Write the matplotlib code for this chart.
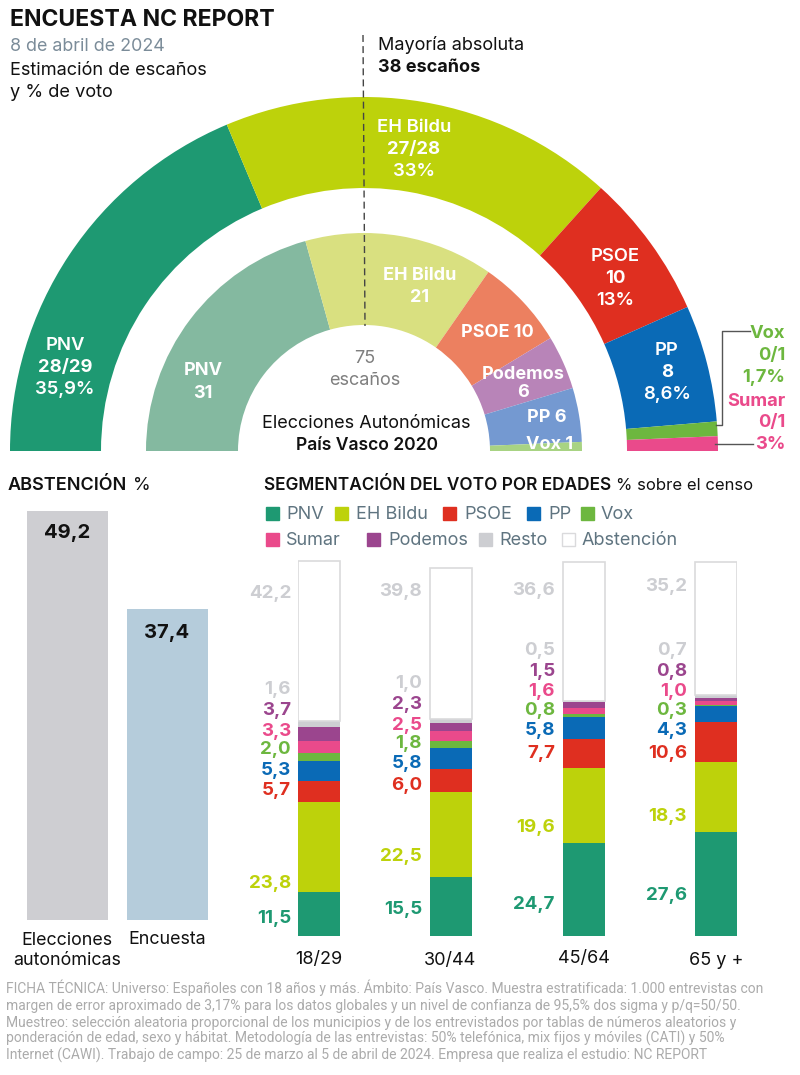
import matplotlib.pyplot as plt
from matplotlib.patches import Rectangle

plt.rcParams['font.family'] = ['Inter', 'DejaVu Sans']

W, H = 800, 1075

# hemiciclos
seats_now = [28, 27, 10, 8, 1, 1]
colors_now = ['#1E9972', '#BDD20B', '#DF2F20', '#0A6AB6', '#6DB73F', '#EA4A8B']
seats_2020 = [31, 21, 10, 6, 6, 1]
colors_2020 = ['#84B9A0', '#D9E080', '#EC8060', '#B884B8', '#7499D1', '#A8D383']
total_seats = 75

# abstencion
abst_names = ['Elecciones\nautonómicas', 'Encuesta']
abst_values = [49.2, 37.4]
abst_colors = ['#CECED2', '#B5CCDB']

# segmentacion por edades
ages = ['18/29', '30/44', '45/64', '65 y +']
pnv = [11.5, 15.5, 24.7, 27.6]
bildu = [23.8, 22.5, 19.6, 18.3]
psoe = [5.7, 6.0, 7.7, 10.6]
pp = [5.3, 5.8, 5.8, 4.3]
vox = [2.0, 1.8, 0.8, 0.3]
sumar = [3.3, 2.5, 1.6, 1.0]
podemos = [3.7, 2.3, 1.5, 0.8]
resto = [1.6, 1.0, 0.5, 0.7]
abstencion = [42.2, 39.8, 36.6, 35.2]
stack = [pnv, bildu, psoe, pp, vox, sumar, podemos, resto, abstencion]
names = ['PNV', 'EH Bildu', 'PSOE', 'PP', 'Vox', 'Sumar', 'Podemos', 'Resto', 'Abstención']
stack_colors = ['#1E9972', '#BDD20B', '#DF2F20', '#0A6AB6', '#6DB73F',
                '#EA4A8B', '#9B458E', '#CDCED2', '#FFFFFF']
text_colors = ['#1E9972', '#BDD20B', '#DF2F20', '#0A6AB6', '#6DB73F',
               '#EA4A8B', '#9B458E', '#CDCED2', '#CDCED2']

footer = [
    'FICHA TÉCNICA: Universo: Españoles con 18 años y más. Ámbito: País Vasco. Muestra estratificada: 1.000 entrevistas con',
    'margen de error aproximado de 3,17% para los datos globales y un nivel de confianza de 95,5% dos sigma y p/q=50/50.',
    'Muestreo: selección aleatoria proporcional de los municipios y de los entrevistados por tablas de números aleatorios y',
    'ponderación de edad, sexo y hábitat. Metodología de las entrevistas: 50% telefónica, mix fijos y móviles (CATI) y 50%',
    'Internet (CAWI). Trabajo de campo: 25 de marzo al 5 de abril de 2024. Empresa que realiza el estudio: NC REPORT',
]

fig = plt.figure(figsize=(W / 100, H / 100), dpi=100, facecolor='white')


def axes_px(x0, y0, x1, y1):
    # ejes colocados en pixeles de la imagen (y hacia abajo)
    return fig.add_axes([x0 / W, 1 - y1 / H, (x1 - x0) / W, (y1 - y0) / H])


# barras de abstencion
ax_abst = axes_px(27, 511, 208, 920)
ax_abst.bar(range(2), abst_values, width=0.81, color=abst_colors)
ax_abst.set_xlim(-0.405, 1.405)
ax_abst.set_ylim(0, 49.2)
ax_abst.axis('off')

# barras apiladas
ax_stack = axes_px(298, 560, 737, 936)
bottom = [0, 0, 0, 0]
for vals, c, n in zip(stack, stack_colors, names):
    if n == 'Abstención':
        ax_stack.bar(range(4), vals, bottom=bottom, width=0.317, color=c,
                     edgecolor='#DADADC', linewidth=1.2)
    else:
        ax_stack.bar(range(4), vals, bottom=bottom, width=0.317, color=c)
    bottom = [b + v for b, v in zip(bottom, vals)]
ax_stack.set_xlim(-0.159, 3.159)
ax_stack.set_ylim(0, 99.34)
ax_stack.axis('off')

# capa general para semicirculos y textos
ax = fig.add_axes([0, 0, 1, 1], zorder=5)
ax.patch.set_alpha(0)

ax.pie(seats_now + [total_seats], colors=colors_now + ['none'], center=(364, 451),
       radius=354, startangle=180, frame=True,
       wedgeprops={'width': 91, 'edgecolor': 'none'})
ax.pie(seats_2020 + [total_seats], colors=colors_2020 + ['none'], center=(364, 451),
       radius=218, startangle=180, frame=True,
       wedgeprops={'width': 92, 'edgecolor': 'none'})
ax.set_xlim(0, W)
ax.set_ylim(H, 0)
ax.set_aspect('auto')
ax.axis('off')


def t(x, y, s, size=13, color='#111111', weight='normal', ha='center', **kw):
    ax.text(x, y + 1.5, s, fontsize=size, color=color, fontweight=weight, ha=ha,
            va='center', **kw)


# cabecera
t(10, 19, 'ENCUESTA NC REPORT', size=16.6, weight='bold', ha='left')
t(10, 45, '8 de abril de 2024', size=12.9, color='#7B8C99', ha='left')
t(10, 69, 'Estimación de escaños', size=13.1, ha='left')
t(10, 91, 'y % de voto', size=13.1, ha='left')
t(378, 44, 'Mayoría absoluta', size=13, ha='left')
t(378, 66, '38 escaños', size=13, weight='bold', ha='left')
ax.plot([363, 365], [35, 326], color='#444444', lw=1, ls=(0, (5, 3)))

# etiquetas del semicirculo exterior
for x, y, s, w in [(65, 344, 'PNV', 'semibold'), (65, 366, '28/29', 'bold'), (65, 388, '35,9%', 'semibold'),
                   (414, 126, 'EH Bildu', 'semibold'), (414, 148, '27/28', 'bold'), (414, 170, '33%', 'semibold'),
                   (615, 255, 'PSOE', 'semibold'), (615, 277, '10', 'bold'), (615, 299, '13%', 'semibold'),
                   (667, 349, 'PP', 'semibold'), (667, 371, '8', 'bold'), (667, 393, '8,6%', 'semibold')]:
    t(x, y, s, size=13.3, color='white', weight=w)

# etiquetas del semicirculo interior
for x, y, s in [(203, 369, 'PNV'), (203, 392, '31'), (420, 274, 'EH Bildu'), (420, 296, '21'),
                (497, 331, 'PSOE 10'), (523, 373, 'Podemos'), (523, 391, '6'),
                (547, 416, 'PP 6'), (550, 443, 'Vox 1')]:
    t(x, y, s, size=13, color='white', weight='bold')

t(365, 357, '75', size=13, color='#7F7F7F')
t(365, 379, 'escaños', size=13, color='#7F7F7F')
t(366, 422, 'Elecciones Autonómicas', size=13)
t(367, 444, 'País Vasco 2020', size=12.6, weight='semibold')

# Vox y Sumar
for y, s, c in [(332, 'Vox', '#6DB73F'), (354, '0/1', '#6DB73F'), (376, '1,7%', '#6DB73F'),
                (400, 'Sumar', '#EA4A8B'), (421, '0/1', '#EA4A8B'), (443, '3%', '#EA4A8B')]:
    t(785, y, s, size=13.2, color=c, weight='bold', ha='right')
ax.plot([750, 722, 722, 716], [331, 331, 425, 425], color='#555555', lw=1)
ax.plot([715, 753], [444, 444], color='#555555', lw=1)

# abstencion
t(8, 484, 'ABSTENCIÓN', size=13, weight='semibold', ha='left')
t(133, 484, '%', size=13, ha='left')
for x, y, v in zip([67, 167], [531, 632], abst_values):
    t(x, y, f'{v:.1f}'.replace('.', ','), size=14.6, weight='bold')
t(67, 949, abst_names[0], size=12.9, linespacing=1.25)
t(167, 938, abst_names[1], size=12.9)

# segmentacion
t(264, 484, 'SEGMENTACIÓN DEL VOTO POR EDADES', size=12.4, weight='semibold', ha='left')
t(616, 484, '% sobre el censo', size=12, ha='left')

legend_x = [(266, 286), (335, 356), (443, 464), (527, 548), (581, 601),
            (266, 286), (367, 388), (479, 499), (562, 582)]
legend_y = [513] * 5 + [539] * 4
for (xs, xt), y, n, c in zip(legend_x, legend_y, names, stack_colors):
    ec = '#DADADC' if n == 'Abstención' else c
    ax.add_patch(Rectangle((xs, y - 6.5), 13, 13, facecolor=c, edgecolor=ec, lw=1))
    t(xt, y, n, size=13, color='#5F7480', ha='left')

label_right = [291, 422, 555, 687]
label_y = [
    [917, 882, 789, 769, 748, 730, 709, 688, 592],
    [908, 855, 784, 762, 742, 724, 703, 682, 590],
    [903, 826, 752, 729, 709, 690, 670, 649, 589],
    [894, 815, 752, 729, 709, 690, 670, 649, 585],
]
for i in range(4):
    for j, vals in enumerate(stack):
        t(label_right[i], label_y[i][j], f'{vals[i]:.1f}'.replace('.', ','), size=13.5,
          color=text_colors[j], weight='bold', ha='right')

for x, y, s in zip([319, 450, 584, 716], [958, 959, 957, 959], ages):
    t(x, y, s, size=13)

# ficha tecnica
for y, s in zip([993, 1010, 1027, 1043, 1060], footer):
    ax.text(6, y, s, fontsize=10, color='#ABABAB', va='baseline',
            family=['Liberation Sans Narrow', 'Roboto', 'DejaVu Sans'])

fig.savefig('out.png', dpi=100)
